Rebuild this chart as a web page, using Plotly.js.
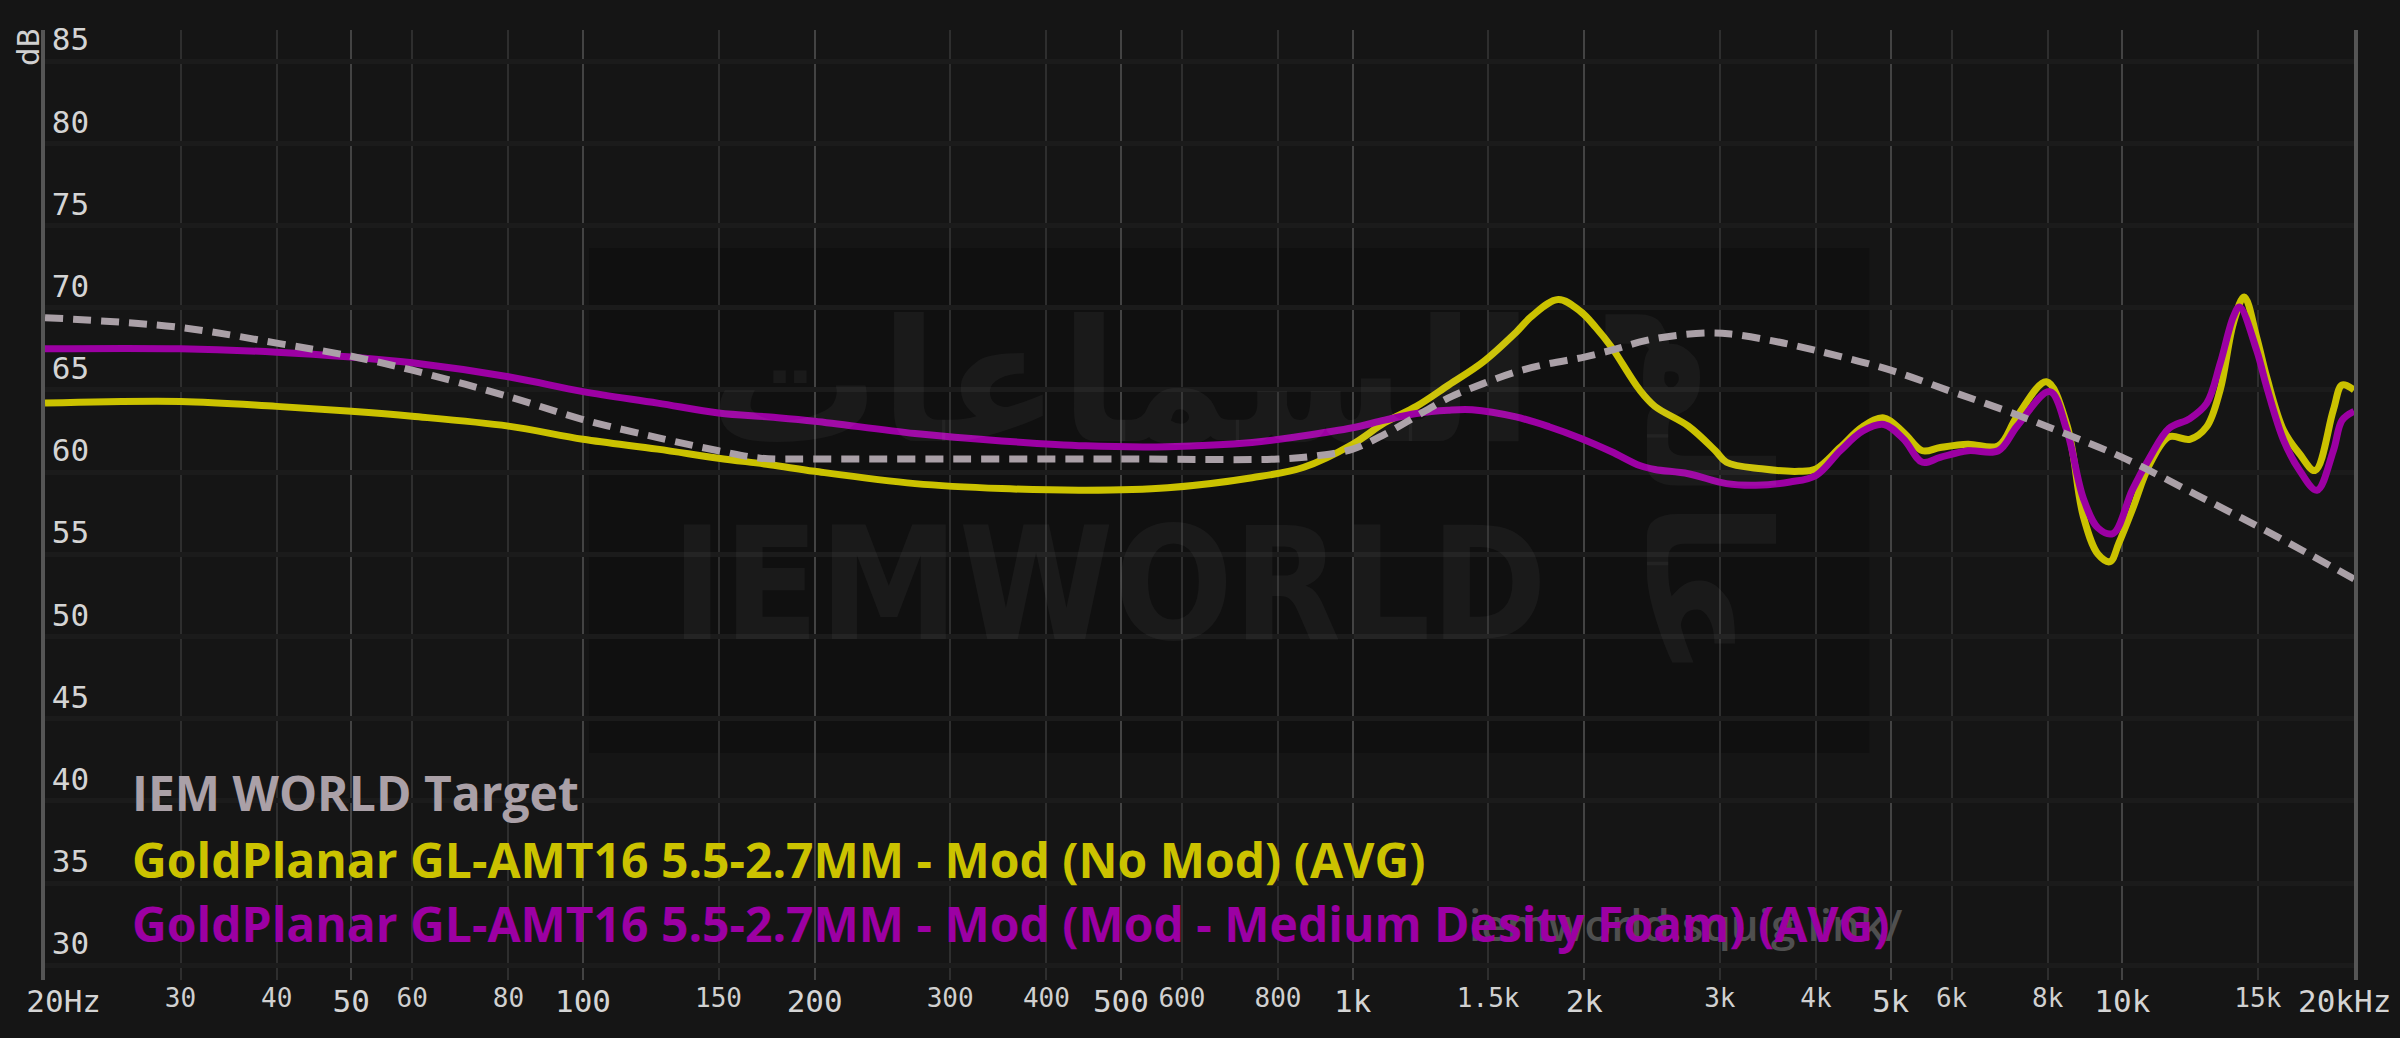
<!DOCTYPE html>
<html>
<head>
<meta charset="utf-8">
<script src="https://cdn.plot.ly/plotly-3.0.1.min.js"></script>
<style>
  html, body { margin: 0; padding: 0; background: #151515; }
  #chart { width: 2400px; height: 1038px; }
</style>
</head>
<body>
<div id="chart"></div>
<script>
// ---------- data ----------
const seriesNames = [
  "IEM WORLD Target",
  "GoldPlanar GL-AMT16 5.5-2.7MM - Mod (No Mod) (AVG)",
  "GoldPlanar GL-AMT16 5.5-2.7MM - Mod (Mod - Medium Desity Foam) (AVG)"
];
const seriesColors = ["#aaa0a7", "#cbc200", "#9c00a3"];

const targetFreq = [20, 30, 40, 50, 60, 80, 100, 125, 150, 170, 200, 300, 500, 800, 900, 1000, 1100, 1200, 1330, 1480, 1630, 1800, 2000, 2200, 2400, 2650, 2900, 3100, 3500, 4000, 5000, 6000, 7000, 8000, 10000, 12500, 15000, 17500, 20000];
const targetDb   = [69.4, 68.8, 67.85, 67.05, 66.2, 64.6, 63.2, 62.1, 61.3, 60.85, 60.8, 60.8, 60.8, 60.8, 61.0, 61.4, 62.3, 63.3, 64.5, 65.4, 66.1, 66.6, 67.0, 67.5, 68.0, 68.33, 68.47, 68.4, 68.0, 67.4, 66.2, 64.9, 63.8, 62.76, 60.9, 58.6, 56.7, 55.0, 53.5];

const noModFreq = [20, 30, 40, 50, 60, 80, 100, 125, 150, 175, 200, 270, 350, 450, 575, 740, 864, 1000, 1100, 1210, 1333, 1477, 1630, 1710, 1850, 1980, 2070, 2170, 2360, 2470, 2730, 2960, 3060, 3400, 3800, 4000, 4300, 4600, 4900, 5200, 5500, 5800, 6300, 6900, 7300, 7970, 8470, 8900, 9300, 9640, 9900, 10300, 10860, 11500, 12240, 12870, 13400, 13940, 14400, 14950, 15400, 16200, 17000, 17800, 18800, 19300, 20000];
const noModDb   = [64.2, 64.3, 64.0, 63.7, 63.4, 62.8, 62.0, 61.4, 60.85, 60.45, 60.05, 59.3, 59.0, 58.9, 59.05, 59.66, 60.3, 61.7, 63.0, 64.0, 65.3, 66.7, 68.5, 69.5, 70.5, 69.75, 68.8, 67.6, 65.0, 64.0, 62.8, 61.3, 60.6, 60.2, 60.05, 60.2, 61.5, 62.76, 63.3, 62.4, 61.3, 61.5, 61.7, 61.6, 63.4, 65.5, 62.9, 57.3, 55.0, 54.55, 55.7, 57.7, 60.5, 62.15, 62.0, 62.76, 65.0, 69.05, 70.66, 68.2, 65.8, 62.55, 61.1, 60.1, 63.77, 65.3, 65.0];

const foamFreq = [20, 30, 40, 50, 60, 80, 100, 125, 150, 175, 200, 270, 350, 450, 575, 740, 860, 1000, 1100, 1210, 1330, 1430, 1630, 1800, 1980, 2170, 2360, 2470, 2730, 3060, 3340, 3700, 4000, 4300, 4600, 4900, 5200, 5500, 5800, 6300, 6900, 7300, 8050, 8470, 8900, 9300, 9730, 10300, 10860, 11500, 12240, 12870, 13400, 13940, 14200, 14950, 15400, 16200, 17000, 17900, 18800, 19300, 20000];
const foamDb   = [67.5, 67.5, 67.3, 67.0, 66.65, 65.8, 64.9, 64.2, 63.6, 63.35, 63.1, 62.35, 61.9, 61.6, 61.55, 61.8, 62.2, 62.7, 63.16, 63.57, 63.77, 63.8, 63.36, 62.76, 62.05, 61.24, 60.4, 60.16, 59.9, 59.3, 59.2, 59.4, 59.8, 61.3, 62.5, 62.9, 62.0, 60.6, 60.9, 61.3, 61.3, 62.8, 64.9, 62.55, 58.4, 56.6, 56.27, 58.9, 60.9, 62.66, 63.26, 64.18, 66.6, 69.45, 70.05, 67.4, 65.2, 61.95, 60.1, 58.9, 61.3, 63.16, 63.7];

const majorTicks  = [20, 50, 100, 200, 500, 1000, 2000, 5000, 10000, 20000];
const majorLabels = ["\u00a0\u00a020Hz", "50", "100", "200", "500", "1k", "2k", "5k", "10k", "20kHz\u00a0"];
const minorTicks  = [30, 40, 60, 80, 150, 300, 400, 600, 800, 1500, 3000, 4000, 6000, 8000, 15000];
const minorLabels = ["30", "40", "60", "80", "150", "300", "400", "600", "800", "1.5k", "3k", "4k", "6k", "8k", "15k"];
const dbTicks = [30, 35, 40, 45, 50, 55, 60, 65, 70, 75, 80, 85];
const watermarkText = "IEMWORLD";
const watermarkArabic = "السماعات";
const watermarkArabic2 = "عالم";
const siteText = "iemworld.squig.link/";

// ---------- traces ----------
const traces = [
  { x: noModFreq, y: noModDb, type: "scatter", mode: "lines", name: seriesNames[1],
    line: { color: seriesColors[1], width: 7, shape: "spline", smoothing: 1 }, hoverinfo: "skip" },
  { x: foamFreq, y: foamDb, type: "scatter", mode: "lines", name: seriesNames[2],
    line: { color: seriesColors[2], width: 7, shape: "spline", smoothing: 1 }, hoverinfo: "skip" },
  { x: targetFreq, y: targetDb, type: "scatter", mode: "lines", name: seriesNames[0], xaxis: "x2",
    line: { color: seriesColors[0], width: 7, shape: "spline", smoothing: 1, dash: "18px,10px" }, hoverinfo: "skip" }
];

const xr = [Math.log10(20), Math.log10(20000)];
const legendY = [0.197, 0.127, 0.059];
const wmColor = "rgba(255,255,255,0.045)";

const annotations = [
  { text: watermarkText, xref: "paper", yref: "paper", x: 0.461, y: 0.416, yanchor: "middle", xanchor: "center", showarrow: false,
    font: { family: "DejaVu Sans Condensed", size: 156, color: wmColor, weight: 700 } },
  { text: watermarkArabic, xref: "paper", yref: "paper", x: 0.466, y: 0.63, yanchor: "middle", xanchor: "center", showarrow: false,
    font: { family: "DejaVu Sans", size: 170, color: wmColor, weight: 700 } },
  { text: watermarkArabic2, xref: "paper", yref: "paper", x: 0.719, y: 0.515, yanchor: "middle", xanchor: "center", showarrow: false,
    textangle: 90, font: { family: "DejaVu Sans", size: 170, color: wmColor, weight: 700 } },
  { text: siteText, xref: "paper", yref: "paper", x: 0.805, y: 0.059, xanchor: "right", yanchor: "middle", showarrow: false,
    font: { family: "Open Sans", size: 44, color: "#4f4f4f", weight: 600 } },
  { text: "dB", xref: "paper", yref: "paper", x: -0.0074, y: 0.982, xanchor: "center", yanchor: "middle", showarrow: false, textangle: -90,
    font: { family: "DejaVu Sans Mono", size: 31, color: "#d0d0d0" } }
];
seriesNames.forEach((n, i) => {
  annotations.push({ text: n, xref: "paper", yref: "paper", x: 0.0368, y: legendY[i], xanchor: "left", yanchor: "middle",
    showarrow: false, font: { family: "Open Sans", size: 48, color: seriesColors[i], weight: 700 } });
});

const layout = {
  width: 2400, height: 1038,
  paper_bgcolor: "#151515", plot_bgcolor: "#151515",
  margin: { l: 45, r: 46, t: 30, b: 58 },
  showlegend: false,
  xaxis: {
    type: "log", range: xr, tickmode: "array", tickvals: majorTicks, ticktext: majorLabels,
    tickfont: { family: "DejaVu Sans Mono", size: 31, color: "#d4d4d4" },
    ticklabeloverflow: "allow",
    showgrid: true, gridcolor: "#434343", gridwidth: 2, zeroline: false, showline: false, ticks: "",
    tickangle: 0, fixedrange: true,
    minor: { tickmode: "array", tickvals: minorTicks, showgrid: true, gridcolor: "#2e2e2e", gridwidth: 2, ticks: "" }
  },
  xaxis2: {
    type: "log", range: xr, overlaying: "x", side: "bottom", tickmode: "array", tickvals: minorTicks, ticktext: minorLabels,
    tickfont: { family: "DejaVu Sans Mono", size: 26, color: "#d0d0d0" },
    ticklabeloverflow: "allow",
    showgrid: false, zeroline: false, showline: false, ticks: "", tickangle: 0, fixedrange: true
  },
  yaxis: {
    range: [29.1, 86.9], tickmode: "array", tickvals: dbTicks,
    ticklabelposition: "inside top", ticklabeloverflow: "allow", ticklabelstandoff: 8,
    tickfont: { family: "DejaVu Sans Mono", size: 31, color: "#d4d4d4" },
    showgrid: true, gridcolor: "#1b1b1b", gridwidth: 5, zeroline: false,
    showline: true, linecolor: "#555555", linewidth: 4, mirror: true, ticks: "", fixedrange: true
  },
  shapes: [
    { type: "rect", xref: "paper", yref: "paper", x0: 0.2356, x1: 0.790, y0: 0.239, y1: 0.7705,
      fillcolor: "#101010", line: { width: 0 }, layer: "below" }
  ],
  annotations: annotations
};

Plotly.newPlot("chart", traces, layout, { staticPlot: true, displayModeBar: false });
</script>
</body>
</html>
